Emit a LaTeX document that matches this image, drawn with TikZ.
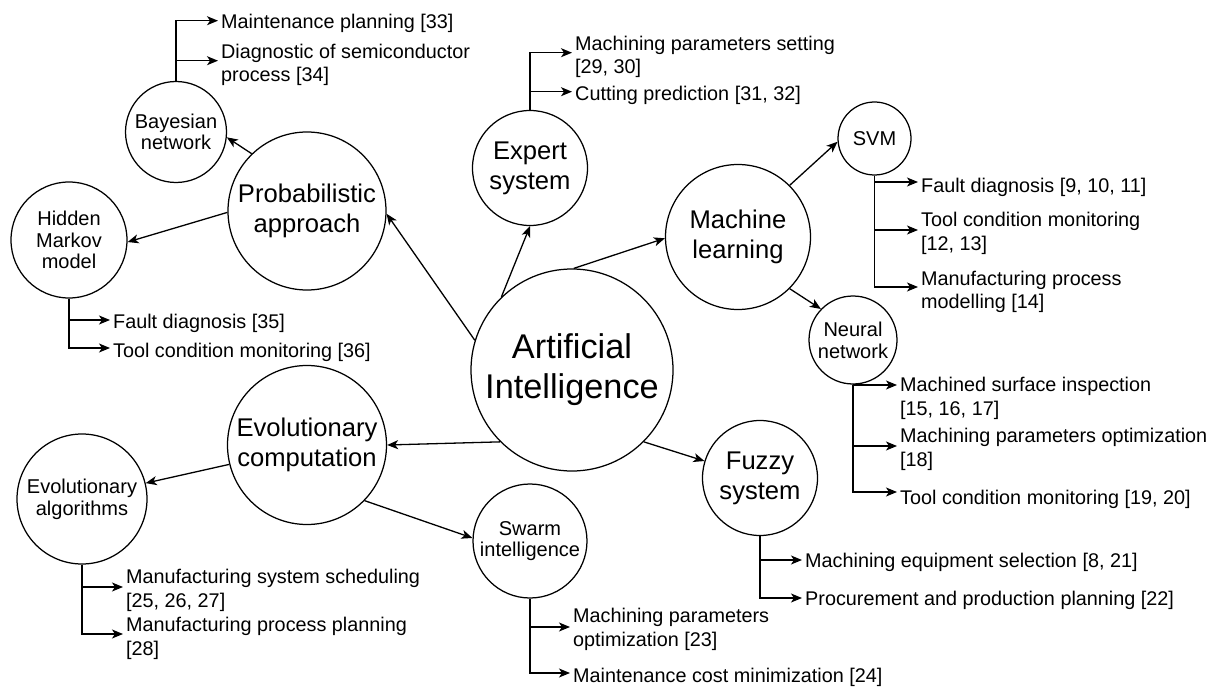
\documentclass[tikz,border=0pt]{standalone}
\usepackage{fontspec}
\setmainfont{Liberation Sans}
\usetikzlibrary{arrows.meta}

\tikzset{
  bubble/.style={circle, draw, line width=1.25pt, inner sep=0pt, align=center},
  hubbig/.style={bubble, font=\fontsize{34.3}{40}\selectfont},
  hubmid/.style={bubble, font=\fontsize{25.6}{30}\selectfont},
  hubsmall/.style={bubble, font=\fontsize{20}{21.7}\selectfont},
  leaftext/.style={anchor=west, align=left, inner xsep=3pt, inner ysep=0pt,
    font=\fontsize{19.8}{23.3}\selectfont},
  linkarrow/.style={line width=1.3pt,
    -{Stealth[length=11pt,width=9pt,inset=3pt]}},
}

\begin{document}
\begin{tikzpicture}[x=1pt, y=-1pt]
\useasboundingbox (0,0) rectangle (1220,687);

% ---- topic bubbles ----
\node[hubbig,   minimum size=202pt] (ai)     at (572,370)     {Artificial\\Intelligence};
\node[hubmid,   minimum size=158pt] (prob)   at (307,211)     {Probabilistic\\approach};
\node[hubsmall, minimum size=101pt] (bayes)  at (176,132)     {Bayesian\\network};
\node[hubsmall, minimum size=116pt] (hmm)    at (69,240)      {Hidden\\Markov\\model};
\node[hubmid,   minimum size=115pt] (expert) at (530,168)     {Expert\\system};
\node[hubmid,   minimum size=145pt] (ml)     at (738,237)     {Machine\\learning};
\node[hubsmall, minimum size=73pt]  (svm)    at (874.5,138.5) {SVM};
\node[hubsmall, minimum size=88pt]  (nn)     at (853,340)     {Neural\\network};
\node[hubmid,   minimum size=115pt] (fuzzy)  at (760,478)     {Fuzzy\\system};
\node[hubmid,   minimum size=159pt] (ec)     at (307,445)     {Evolutionary\\computation};
\node[hubsmall, minimum size=130pt] (ea)     at (82,499)      {Evolutionary\\algorithms};
\node[hubsmall, minimum size=114pt] (swarm)  at (530,541)     {Swarm\\intelligence};

% ---- links between bubbles ----
\draw[linkarrow] (ai.163)  -- (prob.-2);
\draw[linkarrow] (ai.134)  -- (expert.south);
\draw[linkarrow] (ai.89)   -- (ml.181);
\draw[linkarrow] (ai.-45)  -- (fuzzy.163);
\draw[linkarrow] (ai.225)  -- (ec.east);
\draw[linkarrow] (prob.134) -- (bayes.-6);
\draw[linkarrow] (prob.181) -- (hmm.-2);
\draw[linkarrow] (ml.45)   -- (svm.185);
\draw[linkarrow] (ml.-45)  -- (nn.136);
\draw[linkarrow] (ec.194)  -- (ea.14);
\draw[linkarrow] (ec.-44)  -- (swarm.177);

% ---- applications ----
\node[leaftext] (b1) at (218,23.7) {Maintenance planning [33]};
\node[leaftext] (b2) at (218,64.7) {Diagnostic of semiconductor\\process [34]};
\draw[linkarrow] (bayes.north) |- ([yshift=3pt]b1.west);
\draw[linkarrow] (bayes.north) |- ([yshift=4pt]b2.west);

\node[leaftext] (e1) at (572,57) {Machining parameters setting\\{[}29, 30{]}};
\node[leaftext] (e2) at (572,95.3) {Cutting prediction [31, 32]};
\draw[linkarrow] (expert.north) |- ([yshift=4.3pt]e1.west);
\draw[linkarrow] (expert.north) |- ([yshift=3.6pt]e2.west);

\node[leaftext] (s1) at (918,187) {Fault diagnosis [9, 10, 11]};
\node[leaftext] (s2) at (918,233.5) {Tool condition monitoring\\{[}12, 13{]}};
\node[leaftext] (s3) at (918,292) {Manufacturing process\\modelling [14]};
\draw[linkarrow] (svm.south) |- ([yshift=5pt]s1.west);
\draw[linkarrow] (svm.south) |- ([yshift=3.5pt]s2.west);
\draw[linkarrow] (svm.south) |- ([yshift=5pt]s3.west);

\node[leaftext] (n1) at (897,398.5) {Machined surface inspection\\{[}15, 16, 17{]}};
\node[leaftext] (n2) at (897,449.5) {Machining parameters optimization\\{[}18{]}};
\node[leaftext] (n3) at (897,499) {Tool condition monitoring [19, 20]};
\draw[linkarrow] (nn.south) |- ([yshift=13.5pt]n1.west);
\draw[linkarrow] (nn.south) |- ([yshift=3.5pt]n2.west);
\draw[linkarrow] (nn.south) |- ([yshift=7pt]n3.west);

\node[leaftext] (h1) at (110,323) {Fault diagnosis [35]};
\node[leaftext] (h2) at (110,352) {Tool condition monitoring [36]};
\draw[linkarrow] (hmm.south) |- ([yshift=3pt]h1.west);
\draw[linkarrow] (hmm.south) |- ([yshift=4pt]h2.west);

\node[leaftext] (a1) at (123,590.5) {Manufacturing system scheduling\\{[}25, 26, 27{]}};
\node[leaftext] (a2) at (123,638.5) {Manufacturing process planning\\{[}28{]}};
\draw[linkarrow] (ea.south) |- ([yshift=3.5pt]a1.west);
\draw[linkarrow] (ea.south) |- ([yshift=4.5pt]a2.west);

\node[leaftext] (w1) at (570,629.5) {Machining parameters\\optimization [23]};
\node[leaftext] (w2) at (570,677) {Maintenance cost minimization [24]};
\draw[linkarrow] (swarm.south) |- ([yshift=2.5pt]w1.west);
\draw[linkarrow] (swarm.south) |- ([yshift=4pt]w2.west);

\node[leaftext] (f1) at (802,562) {Machining equipment selection [8, 21]};
\node[leaftext] (f2) at (802,600) {Procurement and production planning [22]};
\draw[linkarrow] (fuzzy.south) |- ([yshift=2pt]f1.west);
\draw[linkarrow] (fuzzy.south) |- ([yshift=2pt]f2.west);
\end{tikzpicture}
\end{document}
